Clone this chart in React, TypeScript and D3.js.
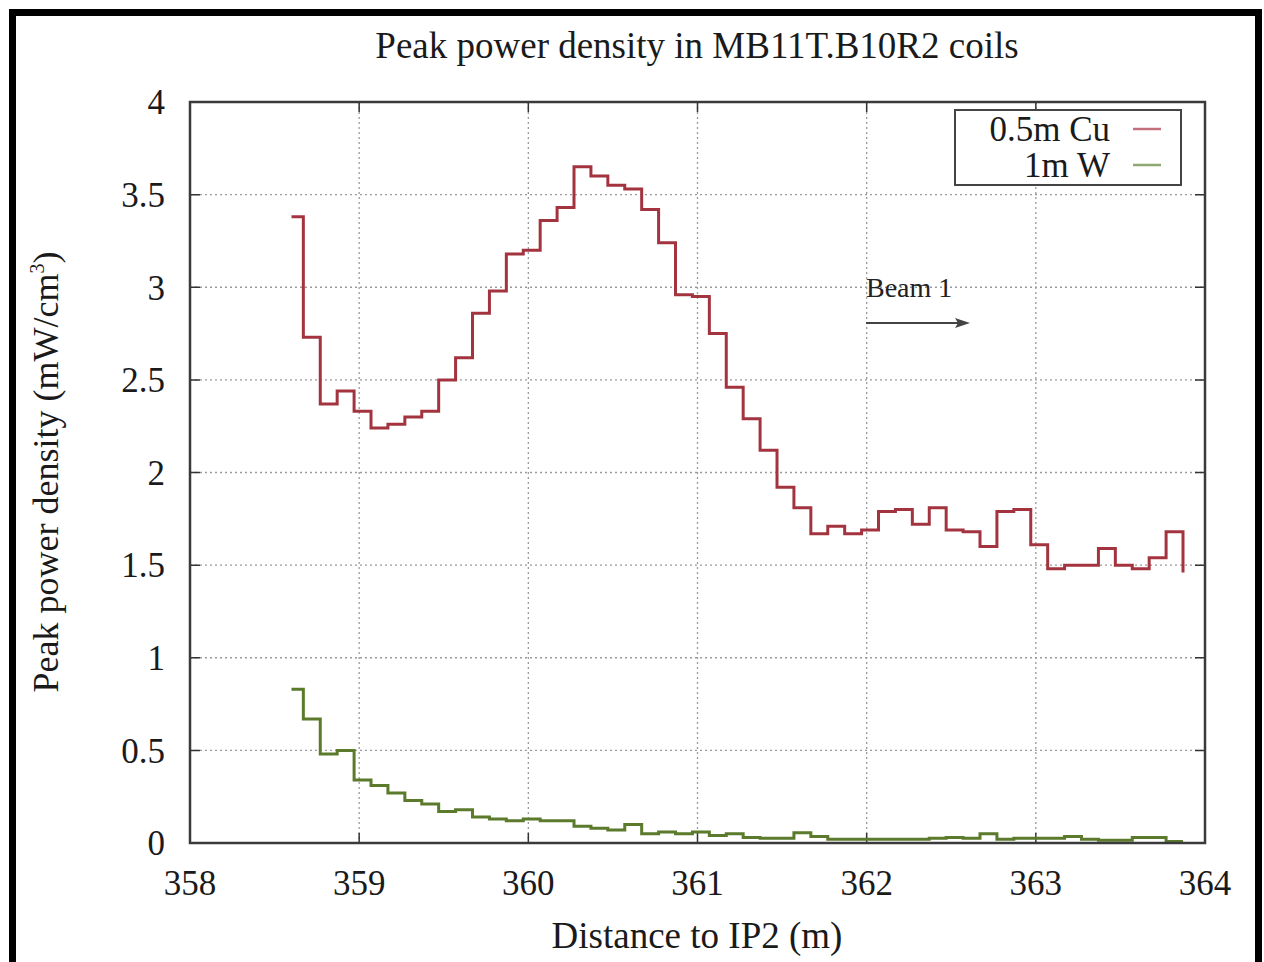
import { useRef, useEffect } from 'react'
import * as d3 from 'd3'

// bin edges along the beam line (m)
const binEdges = [
  358.6, 358.67, 358.77, 358.87, 358.97, 359.07, 359.17, 359.27, 359.37, 359.47,
  359.57, 359.67, 359.77, 359.87, 359.97, 360.07, 360.17, 360.27, 360.37, 360.47,
  360.57, 360.67, 360.77, 360.87, 360.97, 361.07, 361.17, 361.27, 361.37, 361.47,
  361.57, 361.67, 361.77, 361.87, 361.97, 362.07, 362.17, 362.27, 362.37, 362.47,
  362.57, 362.67, 362.77, 362.87, 362.97, 363.07, 363.17, 363.27, 363.37, 363.47,
  363.57, 363.67, 363.77, 363.87,
]

// 0.5m Cu, last value = closing point
const cuValues = [
  3.38, 2.73, 2.37, 2.44, 2.33, 2.24, 2.26, 2.3, 2.33, 2.5,
  2.62, 2.86, 2.98, 3.18, 3.2, 3.36, 3.43, 3.65, 3.6, 3.55,
  3.53, 3.42, 3.24, 2.96, 2.95, 2.75, 2.46, 2.29, 2.12, 1.92,
  1.81, 1.67, 1.71, 1.67, 1.69, 1.79, 1.8, 1.72, 1.81, 1.69,
  1.68, 1.6, 1.79, 1.8, 1.61, 1.48, 1.5, 1.5, 1.59, 1.5,
  1.48, 1.54, 1.68, 1.46,
]

// 1m W
const wValues = [
  0.83, 0.67, 0.48, 0.5, 0.34, 0.31, 0.27, 0.23, 0.21, 0.17,
  0.18, 0.14, 0.13, 0.12, 0.13, 0.12, 0.12, 0.09, 0.08, 0.07,
  0.1, 0.05, 0.06, 0.05, 0.06, 0.04, 0.05, 0.03, 0.025, 0.025,
  0.055, 0.035, 0.02, 0.02, 0.02, 0.02, 0.02, 0.02, 0.025, 0.03,
  0.025, 0.05, 0.02, 0.025, 0.025, 0.025, 0.035, 0.02, 0.015, 0.015,
  0.03, 0.03, 0.008, 0.008,
]

const xTicks = [358, 359, 360, 361, 362, 363, 364]
const yTicks = [0, 0.5, 1, 1.5, 2, 2.5, 3, 3.5, 4]

const seriesNames = ['0.5m Cu', '1m W']
const seriesColors = ['#a3343f', '#5b7a2c']
const legendColors = ['#c4707c', '#8fa873']

const FONT = '"Liberation Serif", "DejaVu Serif", serif'

const App = () => {
  const svgRef = useRef<SVGSVGElement>(null)

  useEffect(() => {
    if (!svgRef.current) return
    const svg = d3.select(svgRef.current)
    svg.selectAll('*').remove()

    const width = 1264
    const height = 962
    const margin = { top: 102, right: 59, bottom: 119, left: 190 }

    svg.attr('width', width).attr('height', height)
    svg.append('rect').attr('width', width).attr('height', height).attr('fill', '#fff')

    const x = d3.scaleLinear().domain([358, 364]).range([margin.left, width - margin.right])
    const y = d3.scaleLinear().domain([0, 4]).range([height - margin.bottom, margin.top])

    const [x0, x1] = x.range()
    const [yb, yt] = y.range()

    // grid
    const grid = svg.append('g').attr('stroke', '#9a9a9a').attr('stroke-width', 1.3)
      .attr('stroke-dasharray', '2,3')
    grid.selectAll('.gx')
      .data(xTicks.slice(1, -1))
      .join('line')
      .attr('x1', d => x(d)).attr('x2', d => x(d))
      .attr('y1', yt).attr('y2', yb)
    grid.selectAll('.gy')
      .data(yTicks.slice(1, -1))
      .join('line')
      .attr('x1', x0).attr('x2', x1)
      .attr('y1', d => y(d)).attr('y2', d => y(d))

    // ticks (inward, mirrored)
    const ticks = svg.append('g').attr('stroke', '#333').attr('stroke-width', 1.5)
    ticks.selectAll('.tx')
      .data(xTicks)
      .join('path')
      .attr('d', d => `M${x(d)},${yb}v-10M${x(d)},${yt}v10`)
    ticks.selectAll('.ty')
      .data(yTicks)
      .join('path')
      .attr('d', d => `M${x0},${y(d)}h10M${x1},${y(d)}h-10`)

    // step lines
    const line = d3.line<[number, number]>()
      .x(d => x(d[0]))
      .y(d => y(d[1]))
      .curve(d3.curveStepAfter)

    ;[cuValues, wValues].forEach((vals, i) => {
      const pts: [number, number][] = binEdges.map((e, k) => [e, vals[k]])
      svg.append('path')
        .attr('d', line(pts))
        .attr('fill', 'none')
        .attr('stroke', seriesColors[i])
        .attr('stroke-width', 3)
        .attr('stroke-linejoin', 'miter')
    })

    // frame
    svg.append('rect')
      .attr('x', x0).attr('y', yt)
      .attr('width', x1 - x0).attr('height', yb - yt)
      .attr('fill', 'none').attr('stroke', '#3a3a3a').attr('stroke-width', 2.5)

    // tick labels
    svg.append('g').selectAll('text')
      .data(yTicks)
      .join('text')
      .attr('x', 165)
      .attr('y', d => y(d))
      .attr('dy', '0.35em')
      .attr('text-anchor', 'end')
      .attr('font-family', FONT)
      .attr('font-size', 35)
      .attr('fill', '#1a1a1a')
      .text(d => String(d))

    svg.append('g').selectAll('text')
      .data(xTicks)
      .join('text')
      .attr('x', d => x(d))
      .attr('y', 895)
      .attr('text-anchor', 'middle')
      .attr('font-family', FONT)
      .attr('font-size', 35)
      .attr('fill', '#1a1a1a')
      .text(d => String(d))

    // title and axis labels
    svg.append('text')
      .attr('x', 697).attr('y', 58)
      .attr('text-anchor', 'middle')
      .attr('font-family', FONT).attr('font-size', 37).attr('fill', '#1a1a1a')
      .text('Peak power density in MB11T.B10R2 coils')

    svg.append('text')
      .attr('x', 697).attr('y', 948)
      .attr('text-anchor', 'middle')
      .attr('font-family', FONT).attr('font-size', 37).attr('fill', '#1a1a1a')
      .text('Distance to IP2 (m)')

    const yl = svg.append('text')
      .attr('transform', 'translate(58,472) rotate(-90)')
      .attr('text-anchor', 'middle')
      .attr('font-family', FONT).attr('font-size', 36).attr('fill', '#1a1a1a')
    yl.append('tspan').text('Peak power density (mW/cm')
    yl.append('tspan').attr('font-size', 20).attr('dy', -14).text('3')
    yl.append('tspan').attr('dy', 14).text(')')

    // legend
    const lg = svg.append('g')
    lg.append('rect')
      .attr('x', 955).attr('y', 110).attr('width', 226).attr('height', 75)
      .attr('fill', '#fff').attr('stroke', '#444').attr('stroke-width', 2)
    seriesNames.forEach((name, i) => {
      const ly = 129 + i * 36
      lg.append('text')
        .attr('x', 1110).attr('y', ly).attr('dy', '0.35em')
        .attr('text-anchor', 'end')
        .attr('font-family', FONT).attr('font-size', 35).attr('fill', '#1a1a1a')
        .text(name)
      lg.append('line')
        .attr('x1', 1133).attr('x2', 1161).attr('y1', ly).attr('y2', ly)
        .attr('stroke', legendColors[i]).attr('stroke-width', 2.5)
    })

    // Beam 1 annotation
    svg.append('text')
      .attr('x', 866).attr('y', 297)
      .attr('font-family', FONT).attr('font-size', 28).attr('fill', '#222')
      .text('Beam 1')
    svg.append('line')
      .attr('x1', 866).attr('x2', 962).attr('y1', 323).attr('y2', 323)
      .attr('stroke', '#444').attr('stroke-width', 2)
    svg.append('path')
      .attr('d', 'M970,323 L955,318 L958,323 L955,328 Z')
      .attr('fill', '#444')

    // outer black frame
    svg.append('rect')
      .attr('x', 12.5).attr('y', 12.5).attr('width', 1246).attr('height', 970)
      .attr('fill', 'none').attr('stroke', '#000').attr('stroke-width', 7)
  }, [])

  return (
    <div style={{ position: 'absolute', left: 0, top: 0 }}>
      <svg ref={svgRef} style={{ display: 'block' }} />
    </div>
  )
}

export default App
